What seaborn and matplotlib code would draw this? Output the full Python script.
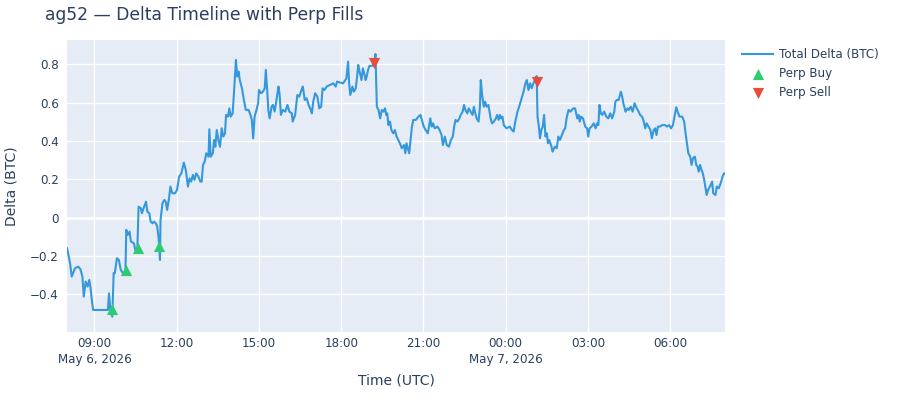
import pandas as pd
import matplotlib
matplotlib.use("Agg")
import matplotlib.pyplot as plt
import matplotlib.dates as mdates
from matplotlib.ticker import FuncFormatter
import seaborn as sns

# Total delta: hours since 2026-05-06 00:00 UTC and delta in BTC
delta_hours = [
    8.00, 8.11, 8.17, 8.29, 8.41, 8.49, 8.56, 8.61, 8.68, 8.75, 8.81, 8.85, 8.89, 8.95,
    9.49, 9.53, 9.58, 9.65, 9.70, 9.74, 9.82, 9.89, 9.96, 10.04, 10.13, 10.16, 10.22,
    10.28, 10.33, 10.44, 10.49, 10.56, 10.61, 10.69, 10.73, 10.81, 10.88, 10.93, 11.00,
    11.05, 11.12, 11.17, 11.24, 11.29, 11.34, 11.39, 11.41, 11.48, 11.55, 11.60, 11.65,
    11.72, 11.77, 11.84, 11.94, 12.01, 12.09, 12.17, 12.26, 12.33, 12.41, 12.47, 12.53,
    12.59, 12.65, 12.71, 12.79, 12.86, 12.91, 12.96, 13.02, 13.08, 13.16, 13.19, 13.24,
    13.32, 13.36, 13.41, 13.46, 13.52, 13.58, 13.64, 13.70, 13.76, 13.80, 13.87, 13.92,
    13.97, 14.04, 14.11, 14.16, 14.21, 14.26, 14.30, 14.38, 14.45, 14.52, 14.62, 14.69,
    14.74, 14.79, 14.84, 14.91, 14.97, 15.00, 15.08, 15.15, 15.21, 15.25, 15.30, 15.34,
    15.39, 15.46, 15.51, 15.57, 15.63, 15.71, 15.75, 15.80, 15.87, 15.96, 16.04, 16.11,
    16.20, 16.23, 16.32, 16.40, 16.47, 16.55, 16.60, 16.67, 16.74, 16.81, 16.89, 16.93,
    16.98, 17.05, 17.13, 17.20, 17.27, 17.32, 17.39, 17.47, 17.59, 17.71, 17.80, 17.85,
    17.95, 18.07, 18.19, 18.25, 18.29, 18.33, 18.41, 18.46, 18.53, 18.58, 18.62, 18.67,
    18.74, 18.79, 18.84, 18.89, 18.93, 18.98, 19.03, 19.13, 19.20, 19.25, 19.30, 19.36,
    19.42, 19.48, 19.54, 19.60, 19.64, 19.68, 19.72, 19.78, 19.83, 19.90, 19.96, 20.02,
    20.08, 20.14, 20.21, 20.29, 20.34, 20.38, 20.43, 20.48, 20.53, 20.58, 20.63, 20.72,
    20.82, 20.89, 20.96, 21.01, 21.08, 21.16, 21.20, 21.25, 21.30, 21.35, 21.41, 21.51,
    21.59, 21.66, 21.71, 21.78, 21.85, 21.93, 22.00, 22.07, 22.12, 22.17, 22.24, 22.31,
    22.36, 22.43, 22.48, 22.53, 22.60, 22.65, 22.72, 22.79, 22.84, 22.89, 22.94, 23.01,
    23.06, 23.09, 23.14, 23.20, 23.25, 23.30, 23.37, 23.45, 23.50, 23.57, 23.64, 23.69,
    23.74, 23.79, 23.83, 23.88, 23.93, 24.03, 24.15, 24.23, 24.29, 24.35, 24.43, 24.51,
    24.58, 24.65, 24.72, 24.77, 24.83, 24.89, 24.95, 25.01, 25.07, 25.13, 25.16, 25.21,
    25.25, 25.30, 25.35, 25.40, 25.45, 25.50, 25.54, 25.59, 25.67, 25.71, 25.79, 25.86,
    25.92, 25.98, 26.05, 26.12, 26.17, 26.22, 26.29, 26.36, 26.46, 26.53, 26.61, 26.66,
    26.70, 26.75, 26.82, 26.90, 26.97, 27.01, 27.06, 27.13, 27.21, 27.28, 27.33, 27.38,
    27.42, 27.47, 27.52, 27.59, 27.67, 27.74, 27.81, 27.88, 27.96, 28.00, 28.05, 28.12,
    28.20, 28.25, 28.29, 28.37, 28.44, 28.49, 28.56, 28.63, 28.70, 28.78, 28.85, 28.90,
    28.97, 29.02, 29.09, 29.14, 29.21, 29.28, 29.33, 29.40, 29.45, 29.50, 29.55, 29.62,
    29.71, 29.81, 29.88, 29.96, 30.03, 30.10, 30.17, 30.22, 30.27, 30.34, 30.44, 30.51,
    30.56, 30.61, 30.66, 30.73, 30.78, 30.83, 30.90, 30.95, 31.00, 31.04, 31.09, 31.14,
    31.19, 31.24, 31.28, 31.33, 31.38, 31.45, 31.53, 31.57, 31.65, 31.70, 31.77, 31.84,
    31.91, 31.96, 32.00,
]
delta_btc = [
    -0.160, -0.238, -0.308, -0.264, -0.256, -0.270, -0.308, -0.412, -0.334, -0.360, -0.325, -0.360, -0.412, -0.482,
    -0.482, -0.395, -0.482, -0.517, -0.290, -0.290, -0.212, -0.221, -0.273, -0.290, -0.282, -0.064, -0.090,
    -0.073, -0.125, -0.134, -0.169, -0.177, 0.057, 0.049, 0.023, 0.057, 0.083, 0.031, 0.023,
    -0.021, -0.030, -0.021, -0.030, -0.047, -0.108, -0.221, -0.012, 0.075, 0.092, 0.083, 0.040,
    0.101, 0.162, 0.127, 0.127, 0.144, 0.214, 0.231, 0.287, 0.249, 0.162, 0.205, 0.188,
    0.223, 0.197, 0.231, 0.214, 0.188, 0.188, 0.275, 0.292, 0.336, 0.318, 0.461, 0.318,
    0.336, 0.405, 0.370, 0.457, 0.405, 0.370, 0.466, 0.423, 0.440, 0.536, 0.527, 0.570,
    0.527, 0.544, 0.701, 0.823, 0.736, 0.762, 0.718, 0.675, 0.614, 0.562, 0.562, 0.536,
    0.510, 0.414, 0.527, 0.562, 0.597, 0.666, 0.649, 0.658, 0.675, 0.771, 0.666, 0.562,
    0.518, 0.579, 0.588, 0.553, 0.605, 0.684, 0.649, 0.536, 0.562, 0.553, 0.588, 0.553,
    0.544, 0.501, 0.536, 0.640, 0.631, 0.666, 0.684, 0.614, 0.623, 0.588, 0.562, 0.544,
    0.605, 0.649, 0.631, 0.570, 0.579, 0.675, 0.666, 0.684, 0.692, 0.701, 0.684, 0.710,
    0.705, 0.701, 0.727, 0.814, 0.701, 0.640, 0.684, 0.657, 0.675, 0.736, 0.797, 0.762,
    0.718, 0.779, 0.753, 0.718, 0.736, 0.771, 0.792, 0.792, 0.805, 0.854, 0.579, 0.562,
    0.518, 0.562, 0.553, 0.570, 0.536, 0.544, 0.483, 0.501, 0.457, 0.440, 0.457, 0.423,
    0.405, 0.388, 0.362, 0.379, 0.336, 0.388, 0.362, 0.336, 0.405, 0.475, 0.510, 0.510,
    0.527, 0.536, 0.501, 0.475, 0.457, 0.440, 0.475, 0.518, 0.475, 0.492, 0.466, 0.475,
    0.457, 0.431, 0.379, 0.423, 0.379, 0.370, 0.405, 0.423, 0.475, 0.510, 0.501, 0.518,
    0.536, 0.553, 0.588, 0.562, 0.544, 0.570, 0.553, 0.536, 0.579, 0.544, 0.518, 0.501,
    0.579, 0.718, 0.640, 0.579, 0.605, 0.579, 0.588, 0.518, 0.492, 0.501, 0.518, 0.536,
    0.510, 0.536, 0.518, 0.527, 0.483, 0.466, 0.475, 0.457, 0.449, 0.501, 0.553, 0.588,
    0.623, 0.657, 0.701, 0.718, 0.666, 0.701, 0.675, 0.701, 0.718, 0.739, 0.527, 0.475,
    0.414, 0.457, 0.475, 0.536, 0.423, 0.440, 0.388, 0.405, 0.370, 0.344, 0.370, 0.362,
    0.423, 0.405, 0.431, 0.457, 0.466, 0.518, 0.562, 0.553, 0.570, 0.570, 0.518, 0.536,
    0.501, 0.527, 0.518, 0.475, 0.466, 0.423, 0.466, 0.475, 0.492, 0.466, 0.492, 0.483,
    0.588, 0.544, 0.536, 0.553, 0.527, 0.518, 0.544, 0.518, 0.553, 0.605, 0.614, 0.614,
    0.657, 0.631, 0.597, 0.553, 0.570, 0.562, 0.579, 0.553, 0.597, 0.570, 0.553, 0.536,
    0.527, 0.510, 0.466, 0.492, 0.475, 0.457, 0.414, 0.457, 0.466, 0.431, 0.475, 0.475,
    0.483, 0.483, 0.475, 0.483, 0.466, 0.483, 0.536, 0.576, 0.553, 0.527, 0.527, 0.501,
    0.440, 0.388, 0.336, 0.318, 0.275, 0.310, 0.318, 0.275, 0.266, 0.240, 0.275, 0.249,
    0.231, 0.197, 0.162, 0.118, 0.144, 0.162, 0.188, 0.127, 0.118, 0.162, 0.153, 0.179,
    0.214, 0.231, 0.228,
]

# Perp fills
buy_hours = [9.645, 10.14, 10.57, 11.37]
buy_delta = [-0.478, -0.273, -0.160, -0.148]
sell_hours = [19.21, 25.13]
sell_delta = [0.805, 0.708]

day0 = pd.Timestamp("2026-05-06")
df = pd.DataFrame({"time": day0 + pd.to_timedelta(delta_hours, unit="h"), "delta": delta_btc})
buys = pd.DataFrame({"time": day0 + pd.to_timedelta(buy_hours, unit="h"), "delta": buy_delta})
sells = pd.DataFrame({"time": day0 + pd.to_timedelta(sell_hours, unit="h"), "delta": sell_delta})

text_col = "#2a3f5f"
plt.rcParams["font.family"] = ["DejaVu Sans"]

fig, ax = plt.subplots(figsize=(9, 4), dpi=100)
fig.subplots_adjust(left=0.0745, right=0.8056, top=0.9, bottom=0.171)
ax.set_facecolor("#E5ECF6")

sns.lineplot(data=df, x="time", y="delta", ax=ax, color="#3498db", linewidth=1.5,
             label="Total Delta (BTC)", zorder=3)
sns.scatterplot(data=buys, x="time", y="delta", ax=ax, marker="^", color="#2ecc71",
                s=65, linewidth=0, label="Perp Buy", zorder=4)
sns.scatterplot(data=sells, x="time", y="delta", ax=ax, marker="v", color="#e74c3c",
                s=65, linewidth=0, label="Perp Sell", zorder=4)

ax.set_xlim(day0 + pd.Timedelta(hours=8), day0 + pd.Timedelta(hours=32))
ax.set_ylim(-0.595, 0.927)

# grid
ax.set_axisbelow(True)
ax.grid(True, color="white", linewidth=1)
ax.axhline(0, color="white", linewidth=2, zorder=1)
for s in ax.spines.values():
    s.set_visible(False)


def time_label(x, pos):
    d = mdates.num2date(x)
    lab = f"{d:%H:%M}"
    if pos == 0 or d.hour == 0:
        lab += f"\n{d:%b} {d.day}, {d.year}"
    return lab


ax.xaxis.set_major_locator(mdates.HourLocator(byhour=range(0, 24, 3)))
ax.xaxis.set_major_formatter(FuncFormatter(time_label))
ax.set_yticks([-0.4, -0.2, 0, 0.2, 0.4, 0.6, 0.8])
ax.yaxis.set_major_formatter(FuncFormatter(lambda v, p: "0" if abs(v) < 1e-9 else f"{v:.1f}".replace("-", "\u2212")))
ax.tick_params(axis="both", length=0, labelsize=8.6, colors=text_col)
ax.tick_params(axis="x", pad=4)
ax.tick_params(axis="y", pad=6)
for lab in ax.get_xticklabels():
    lab.set_linespacing(1.25)

ax.set_xlabel("Time (UTC)", fontsize=10, color=text_col, labelpad=6)
ax.set_ylabel("Delta (BTC)", fontsize=10, color=text_col, labelpad=8)

fig.text(0.05, 1 - 15 / 400, "ag52 \u2014 Delta Timeline with Perp Fills", fontsize=12.3,
         color=text_col, va="center", ha="left")

h, l = ax.get_legend_handles_labels()
ax.get_legend().remove()
fig.legend(h, l, loc="upper left", bbox_to_anchor=(742 / 900, 1 - 48 / 400), frameon=False,
           fontsize=8.6, handlelength=2.6, handletextpad=0.5, labelspacing=0.5,
           borderaxespad=0, borderpad=0, labelcolor=text_col)

fig.savefig("out.png", dpi=100)
